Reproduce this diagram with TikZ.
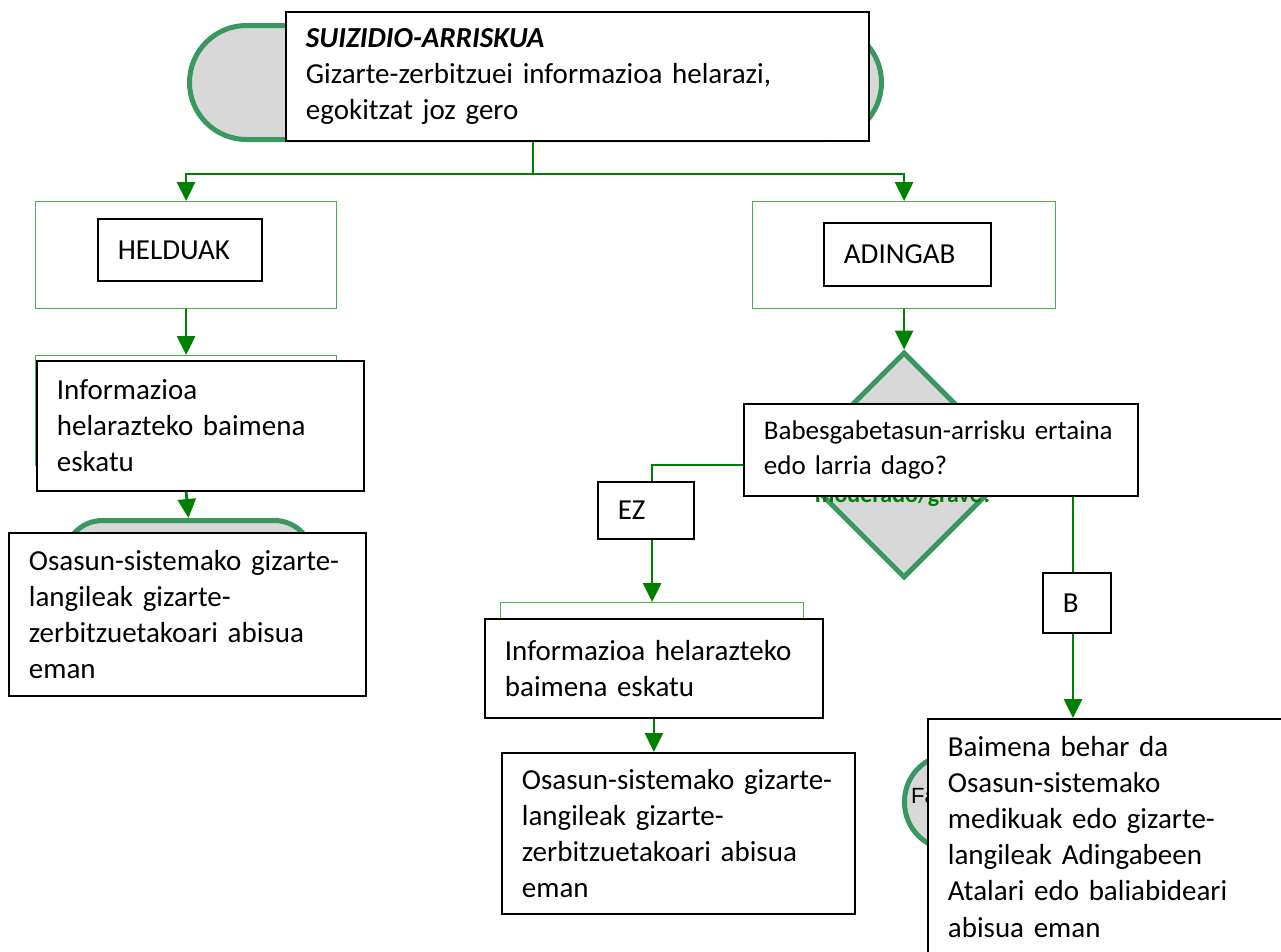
\documentclass[tikz,border=0pt]{standalone}
\usepackage{fontspec}
\setmainfont{Carlito}
\newfontfamily\arialfont{Liberation Sans}
\usetikzlibrary{arrows.meta,shapes.geometric}
\definecolor{flowgreen}{RGB}{0,128,0}
\definecolor{framegreen}{RGB}{76,175,80}
\definecolor{shapegreen}{RGB}{56,152,96}
\definecolor{shapefill}{RGB}{216,216,216}
\hyphenpenalty=10000
\exhyphenpenalty=10000
\begin{document}
\begin{tikzpicture}[x=1pt,y=-1pt,
  textbox/.style={draw=black,line width=1.8pt,fill=white,anchor=north west,align=left,
    inner xsep=20pt,inner ysep=0pt,font=\fontsize{29}{36.2}\selectfont},
  frame/.style={draw=framegreen,line width=1.2pt,fill=white,anchor=north west,inner sep=0pt},
  stadium/.style={draw=shapegreen,line width=5pt,fill=shapefill,anchor=north west,inner sep=0pt},
  conn/.style={draw=flowgreen,line width=2.7pt},
  flow/.style={conn,-{Triangle[length=19pt,width=18pt]}},
]
\useasboundingbox (0,0) rectangle (1281,951);

% ---- top: rounded start shape with its label box
\node[stadium,rounded corners=57pt,minimum width=692pt,minimum height=114pt] (topShape) at (187,23) {};
\node[textbox,text width=543pt,minimum height=129pt] (top) at (285,11)
  {\textbf{\textit{SUIZIDIO-ARRISKUA}}\\Gizarte-zerbitzuei informazioa helarazi,\\egokitzat joz gero};

% ---- left branch (adults)
\node[frame,minimum width=301pt,minimum height=107pt] (hOuter) at (35,201) {};
\node[textbox,text width=124pt,minimum height=62pt] (hTitle) at (97,218) {HELDUAK};
\node[frame,minimum width=301pt,minimum height=110pt] (hInfoG) at (35,355) {};
\node[textbox,text width=287pt,minimum height=130pt] (hInfo) at (36,360)
  {Informazioa\\helarazteko baimena\\eskatu};
\node[stadium,rounded corners=38pt,minimum width=248pt,minimum height=170pt] (hStad) at (62,518) {};
\node[textbox,text width=317pt,minimum height=163pt] (hOsasun) at (8,532)
  {Osasun-sistemako gizarte-\\langileak gizarte-\\zerbitzuetakoari abisua\\eman};

% ---- right branch (minors)
\node[frame,minimum width=303pt,minimum height=107pt] (aOuter) at (752,201) {};
\node[textbox,text width=127pt,minimum height=63pt] (aTitle) at (823,222) {ADINGAB};
\node[diamond,draw=shapegreen,line width=5pt,fill=shapefill,minimum width=226pt,
  minimum height=226pt,inner sep=0pt] (dia) at (904,465) {};
\node[frame,minimum width=303pt,minimum height=40pt] (aInfoG) at (500,602) {};
\node[stadium,rounded corners=47pt,minimum width=300pt,minimum height=95pt] (bShape) at (902,752) {};
\node[font=\arialfont\fontsize{22}{26}\selectfont,anchor=west,inner sep=0pt] (bShapeText) at (911,796) {Fa};
\coordinate (bTip) at (1073,718);

% ---- connectors
\coordinate (split) at (533,174);
\draw[conn] (split |- top.south) -- (split);
\draw[flow] (split) -| (hOuter.north);
\draw[flow] (split) -| (aOuter.north);
\draw[flow] (hOuter.south) -- (hInfoG.north);
\draw[flow] (hInfoG.north |- hInfo.south) -- (hStad.north);
\draw[flow] (aOuter.south) -- (aOuter.south |- dia.north);
\draw[flow] (dia.west) -| (aInfoG.north);
\draw[flow] (dia.east) -| (bTip);

% ---- decision text and boxes on top of the connectors
\node[text=flowgreen,font=\fontsize{24}{28}\selectfont\bfseries,anchor=base,inner sep=0pt] (diaText) at (904,502) {moderado/grave?};
\node[textbox,text width=354pt,minimum height=92pt,font=\fontsize{27}{35}\selectfont] (q) at (743,403)
  {\mbox{Babesgabetasun-arrisku ertaina}\\edo larria dago?};
\node[textbox,text width=56pt,minimum height=57pt] (ez) at (597,481) {EZ};
\node[textbox,text width=28pt,minimum height=60pt] (b) at (1042,572) {B};
\node[textbox,text width=298pt,minimum height=99pt] (aInfo) at (484,618)
  {Informazioa helarazteko\\baimena eskatu};
\draw[flow] (aInfo.south) -- (aInfo.south |- 0,752);
\node[textbox,text width=313pt,minimum height=161pt] (aOsasun) at (501,752)
  {Osasun-sistemako gizarte-\\langileak gizarte-\\zerbitzuetakoari abisua\\eman};
\node[textbox,text width=400pt,inner ysep=17pt] (baim) at (927,718)
  {Baimena behar da\\Osasun-sistemako\\medikuak edo gizarte-\\langileak Adingabeen\\Atalari edo baliabideari\\abisua eman};
\end{tikzpicture}
\end{document}
